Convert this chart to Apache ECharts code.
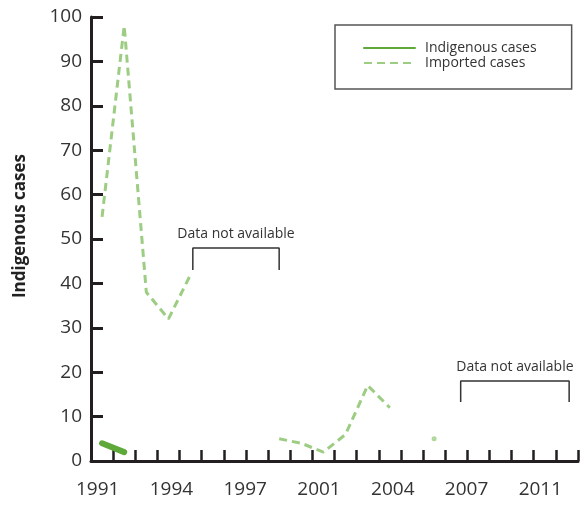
<!DOCTYPE html>
<html>
<head>
<meta charset="utf-8">
<script src="https://cdn.jsdelivr.net/npm/echarts@6/dist/echarts.min.js"></script>
<style>
html,body{margin:0;padding:0;background:#fff;}
#chart{width:584px;height:505px;}
</style>
</head>
<body>
<div id="chart"></div>
<script>
// ---- data ----
const years = [1991,1992,1993,1994,1995,1996,1997,1998,1999,2000,2001,2002,2003,2004,2005,2006,2007,2008,2009,2010,2011,2012];
const indigenousCases = [4,2,null,null,null,null,null,null,null,null,null,null,null,null,null,null,null,null,null,null,null,null];
const importedCases = [55,98,38,32,42,null,null,null,5,4,2,6,17,12,null,5,null,null,null,null,null,null];
const xTickLabels = ['1991','1994','1997','2001','2004','2007','2011'];
const yMin = 0, yMax = 100, yStep = 10;
const gapNotes = [
  {from: 1995.1, to: 1999.0, top: 48, bottom: 43, label: 'Data not available'},
  {from: 2007.2, to: 2012.1, top: 18, bottom: 13.3, label: 'Data not available'}
];
const seriesNames = ['Indigenous cases', 'Imported cases'];
const yAxisTitle = 'Indigenous cases';

// ---- build ----
const FONT = '"Open Sans", "Noto Sans", sans-serif';
const TXT = '#333333';
const AX = '#231f20';
const first = years[0], last = years[years.length - 1];
const xMin = first - 0.5, xMax = last + 0.5;
const boundaries = years.map(y => y + 0.5);
const labelShift = -0.2;
const labelPos = xTickLabels.map((t, i) => first + i * (2011 - first) / (xTickLabels.length - 1) + labelShift);

function linePairs(vals) {
  return years.map((y, i) => [y, vals[i] == null ? '-' : vals[i]]);
}
function isolatedPoints(vals) {
  const out = [];
  years.forEach((y, i) => {
    const v = vals[i];
    const prev = i > 0 ? vals[i - 1] : null;
    const next = i < vals.length - 1 ? vals[i + 1] : null;
    if (v != null && prev == null && next == null) out.push([y, v]);
  });
  return out;
}

const gapSeries = gapNotes.map(g => ({
  type: 'line',
  name: 'gap',
  silent: true,
  symbol: 'none',
  z: 1,
  lineStyle: {color: '#333', width: 1.5},
  itemStyle: {color: '#333'},
  data: [[g.from, g.bottom], [g.from, g.top], [g.to, g.top], [g.to, g.bottom]],
  markPoint: {
    symbol: 'circle', symbolSize: 0, silent: true,
    label: {show: true, position: 'top', distance: 7, formatter: g.label,
            fontSize: 14, color: TXT, fontFamily: FONT},
    data: [{coord: [(g.from + g.to) / 2, g.top]}]
  }
}));

const chart = echarts.init(document.getElementById('chart'));
chart.setOption({
  animation: false,
  grid: {left: 91, right: 6, top: 17, bottom: 44},
  legend: {
    orient: 'vertical',
    left: 335,
    top: 25,
    padding: [16, 35, 19, 28],
    borderColor: '#555',
    borderWidth: 1.5,
    itemWidth: 51,
    itemHeight: 14,
    itemGap: 1,
    itemStyle: {opacity: 0},
    textStyle: {fontSize: 14, color: TXT, fontFamily: FONT, padding: [0, 0, 0, 5]},
    data: seriesNames
  },
  xAxis: {
    type: 'value',
    min: xMin,
    max: xMax,
    splitLine: {show: false},
    axisLine: {show: true, lineStyle: {color: AX, width: 3}},
    axisTick: {show: true, inside: true, length: 11, lineStyle: {color: AX, width: 2.5}, customValues: boundaries},
    axisLabel: {
      customValues: labelPos,
      fontSize: 19, color: TXT, margin: 19, fontFamily: FONT,
      formatter: function (v) {
        const k = Math.round((v - labelShift - first) * (xTickLabels.length - 1) / (2011 - first));
        return xTickLabels[k];
      }
    }
  },
  yAxis: {
    type: 'value',
    min: yMin, max: yMax, interval: yStep,
    name: yAxisTitle,
    nameLocation: 'middle',
    nameRotate: 90,
    nameGap: 62,
    nameTextStyle: {fontSize: 17, fontWeight: 'bold', color: '#222', fontFamily: FONT, padding: [0, 0, 0, 26]},
    splitLine: {show: false},
    axisLine: {show: true, lineStyle: {color: AX, width: 3}},
    axisTick: {show: true, inside: true, length: 12, lineStyle: {color: AX, width: 3}},
    axisLabel: {fontSize: 19, color: TXT, margin: 9, fontFamily: FONT}
  },
  series: [
    {
      name: seriesNames[1],
      type: 'line',
      data: linePairs(importedCases),
      symbol: 'none',
      connectNulls: false,
      itemStyle: {color: '#9ccd83'},
      lineStyle: {color: '#9ccd83', width: 3, type: [8, 5]},
      z: 2
    },
    {
      name: 'imported-isolated',
      type: 'scatter',
      data: isolatedPoints(importedCases),
      symbol: 'circle',
      symbolSize: 5,
      silent: true,
      itemStyle: {color: '#9ccd83'},
      z: 2
    },
    {
      name: seriesNames[0],
      type: 'line',
      data: linePairs(indigenousCases),
      symbol: 'none',
      connectNulls: false,
      itemStyle: {color: '#5ea93a'},
      lineStyle: {color: '#5ea93a', width: 6, cap: 'round'},
      z: 3
    }
  ].concat(gapSeries)
});
</script>
</body>
</html>
